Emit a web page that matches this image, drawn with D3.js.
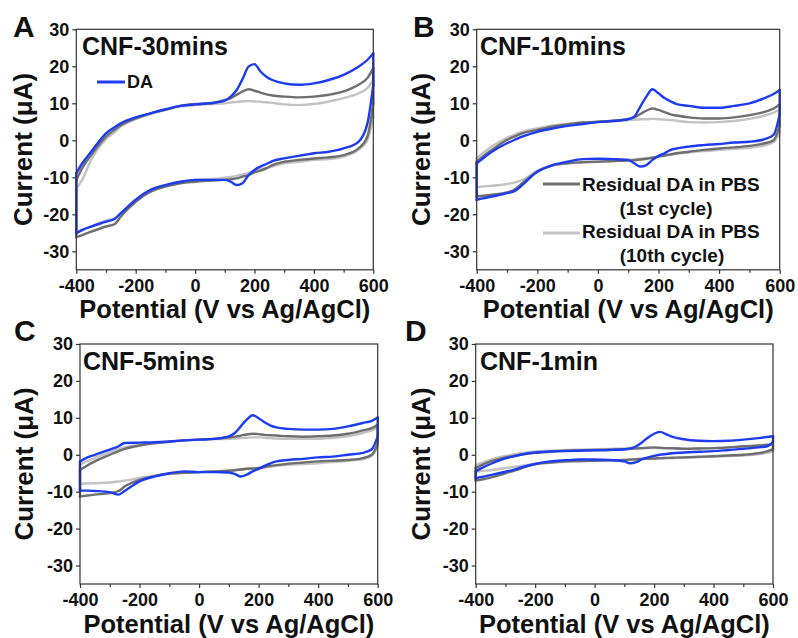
<!DOCTYPE html>
<html>
<head>
<meta charset="utf-8">
<script src="https://cdnjs.cloudflare.com/ajax/libs/d3/7.8.5/d3.min.js"></script>
<style>
body { margin: 0; background: #fff; }
svg text { font-family: "Liberation Sans", Arial, sans-serif; font-weight: bold; fill: #111; }
</style>
</head>
<body>
<svg id="fig" width="798" height="638"></svg>
<script>
// potential grid (mV) shared by every sweep
var potential = [-400, -380, -350, -300, -270, -250, -200, -150, -100, -50, 0, 50, 100, 120, 140,
                 160, 180, 200, 220, 240, 260, 300, 350, 400, 450, 500, 550, 580, 600];
var xTicks = [-400, -200, 0, 200, 400, 600];
var xMinor = [-300, -100, 100, 300, 500];
var yTicks = [-30, -20, -10, 0, 10, 20, 30];
var letters = ["A", "B", "C", "D"];
var titles = ["CNF-30mins", "CNF-10mins", "CNF-5mins", "CNF-1min"];
var seriesNames = ["DA", "Residual DA in PBS (1st cycle)", "Residual DA in PBS (10th cycle)"];

// A: CNF-30mins  (fwd = anodic/upper branch, rev = cathodic/lower branch)
var a_da_fwd  = [-8.9,-6.2,-3.1,1.9,3.6,4.6,6.2,7.3,8.4,9.3,9.7,10.0,10.7,11.8,13.6,16.6,19.9,20.6,18.6,17.2,16.3,15.4,15.0,15.4,16.3,17.7,19.9,21.7,23.5];
var a_da_rev  = [-25.1,-24.2,-23.3,-22.0,-21.2,-19.7,-16.1,-13.4,-12.1,-11.2,-10.7,-10.7,-10.7,-11.2,-12.1,-11.6,-9.4,-8.0,-7.1,-6.4,-5.6,-4.9,-4.2,-3.5,-3.1,-2.2,-0.4,4.5,15.0];
var a_c1_fwd  = [-10.7,-7.5,-4.0,1.0,2.9,4.1,5.9,7.3,8.2,9.3,9.8,10.0,10.9,11.4,12.3,13.2,13.8,13.4,12.9,12.4,12.1,11.8,11.6,11.8,12.3,13.2,15.0,16.8,19.5];
var a_c1_rev  = [-26.2,-25.6,-24.7,-23.3,-22.6,-20.6,-16.6,-13.9,-12.5,-11.6,-11.2,-10.9,-10.7,-10.5,-10.3,-9.8,-9.4,-8.7,-8.2,-7.6,-6.7,-5.8,-5.3,-4.9,-4.6,-4.0,-2.2,1.0,10.0];
var a_c10_fwd = [-13.0,-10.7,-5.3,0.3,2.3,3.7,5.7,7.1,8.2,9.1,9.5,9.8,10.0,10.2,10.4,10.5,10.6,10.5,10.4,10.3,10.1,9.7,9.5,9.8,10.5,11.4,12.7,14.1,16.3];
var a_c10_rev = [-25.1,-24.4,-23.3,-21.7,-21.0,-19.7,-15.9,-13.4,-12.1,-11.2,-10.7,-10.5,-10.1,-9.9,-9.6,-9.2,-8.8,-8.2,-7.8,-7.5,-7.1,-6.2,-5.8,-5.3,-5.1,-4.4,-2.6,0.0,6.0];

// B: CNF-10mins
var b_da_fwd  = [-6.2,-4.9,-3.1,-0.8,0.3,1.0,2.3,3.2,3.9,4.4,4.9,5.2,5.7,6.4,9.1,11.8,13.8,12.7,11.4,10.5,9.8,9.3,8.8,8.8,9.3,10.0,11.4,12.5,13.6];
var b_da_rev  = [-16.1,-15.7,-15.2,-14.3,-13.5,-12.1,-8.5,-6.7,-5.8,-5.1,-5.0,-5.1,-5.3,-6.2,-7.1,-6.7,-5.3,-4.2,-3.5,-2.6,-2.2,-1.7,-1.3,-1.0,-0.6,-0.4,0.3,1.5,7.0];
var b_c1_fwd  = [-5.8,-4.4,-2.6,0.1,1.2,1.9,2.8,3.7,4.3,4.8,5.0,5.3,5.8,6.2,7.1,8.0,8.6,8.2,7.6,7.0,6.7,6.2,5.9,5.9,6.2,6.8,7.7,8.6,9.7];
var b_c1_rev  = [-15.2,-15.0,-14.7,-14.1,-13.0,-11.6,-8.5,-6.8,-6.2,-5.9,-5.8,-5.6,-5.5,-5.4,-5.2,-5.0,-4.7,-4.4,-4.1,-3.8,-3.5,-3.1,-2.6,-2.2,-1.9,-1.5,-0.8,0.0,4.0];
var b_c10_fwd = [-4.9,-3.5,-1.7,0.7,1.7,2.3,3.2,4.0,4.4,4.8,5.0,5.2,5.5,5.6,5.7,5.7,5.8,5.7,5.6,5.5,5.3,4.9,4.8,4.9,5.2,5.8,6.7,7.5,8.2];
var b_c10_rev = [-12.7,-12.5,-12.3,-11.8,-11.3,-10.7,-8.2,-6.8,-6.2,-6.0,-5.8,-5.6,-5.3,-5.2,-5.0,-4.8,-4.6,-4.4,-4.2,-3.9,-3.6,-3.3,-2.9,-2.6,-2.3,-2.0,-1.4,-0.5,2.0];

// C: CNF-5mins
var c_da_fwd  = [-1.8,-0.9,0.0,1.4,2.3,3.2,3.3,3.4,3.6,3.9,4.1,4.3,5.0,5.9,7.7,9.5,10.7,9.9,8.8,7.9,7.4,7.0,6.8,6.8,7.0,7.7,8.6,9.2,10.1];
var c_da_rev  = [-9.7,-9.7,-9.8,-10.1,-10.8,-9.8,-7.2,-5.9,-5.0,-4.5,-4.7,-4.7,-4.8,-5.2,-5.9,-5.4,-4.5,-3.8,-3.0,-2.3,-1.8,-1.4,-1.1,-0.7,-0.5,0.0,0.5,1.5,5.0];
var c_c1_fwd  = [-4.1,-3.1,-1.8,0.0,1.0,1.6,2.5,3.1,3.5,3.9,4.1,4.3,4.7,4.9,5.2,5.5,5.7,5.6,5.4,5.3,5.2,5.0,4.9,5.0,5.2,5.7,6.6,7.2,8.1];
var c_c1_rev  = [-11.3,-11.1,-10.8,-10.4,-9.8,-8.6,-6.8,-5.7,-5.1,-4.9,-4.7,-4.5,-4.3,-4.2,-4.0,-3.8,-3.7,-3.6,-3.3,-3.0,-2.8,-2.4,-2.1,-1.8,-1.6,-1.4,-0.9,0.0,3.0];
var c_c10_fwd = [-2.7,-1.9,-0.9,0.7,1.5,2.0,2.7,3.3,3.6,3.9,4.1,4.2,4.3,4.4,4.5,4.6,4.7,4.7,4.6,4.5,4.4,4.3,4.3,4.3,4.6,5.0,5.9,6.6,7.4];
var c_c10_rev = [-7.9,-7.8,-7.7,-7.5,-7.2,-7.0,-6.3,-5.7,-5.2,-4.9,-4.7,-4.5,-4.3,-4.2,-4.0,-3.8,-3.7,-3.6,-3.4,-3.2,-3.0,-2.7,-2.5,-2.3,-2.0,-1.6,-1.2,-0.3,2.0];

// D: CNF-1min
var d_da_fwd  = [-4.5,-3.6,-2.5,-1.0,-0.4,0.0,0.6,0.9,1.0,1.1,1.2,1.3,1.5,1.7,2.3,3.4,4.7,5.7,6.2,5.6,4.9,4.2,3.8,3.7,3.8,4.1,4.5,4.8,5.0];
var d_da_rev  = [-6.4,-6.0,-5.5,-4.6,-4.0,-3.5,-2.5,-1.8,-1.5,-1.3,-1.3,-1.4,-1.8,-2.3,-2.0,-1.2,-0.7,-0.3,0.0,0.2,0.4,0.6,0.8,1.0,1.3,1.6,2.0,2.3,3.5];
var d_c1_fwd  = [-3.6,-2.8,-1.8,-0.7,-0.3,0.0,0.5,0.8,1.1,1.2,1.3,1.4,1.5,1.6,1.7,1.8,1.9,2.0,1.9,1.8,1.8,1.6,1.7,1.8,2.0,2.3,2.5,2.7,2.9];
var d_c1_rev  = [-7.0,-6.7,-6.2,-5.0,-4.3,-3.8,-2.5,-2.1,-1.8,-1.7,-1.6,-1.5,-1.4,-1.3,-1.2,-1.1,-1.05,-1.0,-0.9,-0.85,-0.8,-0.7,-0.55,-0.4,-0.2,0.0,0.4,0.9,1.5];
var d_c10_fwd = [-2.8,-2.2,-1.3,-0.3,0.1,0.4,0.9,1.1,1.3,1.4,1.5,1.6,1.7,1.7,1.8,1.8,1.8,1.8,1.8,1.75,1.7,1.7,1.75,1.8,2.0,2.2,2.4,2.55,2.7];
var d_c10_rev = [-4.6,-4.4,-4.2,-3.6,-3.3,-3.0,-2.5,-2.2,-1.9,-1.75,-1.6,-1.5,-1.4,-1.35,-1.3,-1.2,-1.15,-1.1,-1.0,-0.95,-0.9,-0.8,-0.65,-0.5,-0.35,-0.2,0.1,0.5,1.0];

var colors = { da: "#1d3cf2", c1: "#6e6e6e", c10: "#c2c2c2" };

// panel frames: [left, right, top, bottom] plus text anchors
var panels = [
    { box: [76.3, 373.3, 29.3, 269.8], letter: [13, 37], title: [82, 55], ytitle: [32, 149.5], xtitle: 318,
      curves: { c10: [a_c10_fwd, a_c10_rev], c1: [a_c1_fwd, a_c1_rev], da: [a_da_fwd, a_da_rev] } },
    { box: [476.7, 779.7, 29.3, 269.8], letter: [413, 37], title: [480, 55], ytitle: [430, 149.5], xtitle: 318,
      curves: { c10: [b_c10_fwd, b_c10_rev], c1: [b_c1_fwd, b_c1_rev], da: [b_da_fwd, b_da_rev] } },
    { box: [80, 377.7, 344, 584], letter: [14, 341], title: [83, 370], ytitle: [33, 464], xtitle: 633,
      curves: { c10: [c_c10_fwd, c_c10_rev], c1: [c_c1_fwd, c_c1_rev], da: [c_da_fwd, c_da_rev] } },
    { box: [475.7, 773, 344, 584], letter: [405, 341], title: [480, 370], ytitle: [430, 464], xtitle: 633,
      curves: { c10: [d_c10_fwd, d_c10_rev], c1: [d_c1_fwd, d_c1_rev], da: [d_da_fwd, d_da_rev] } }
];

var svg = d3.select("#fig");
var plain = function (d) { return String(d); };   // hyphen minus like the original

panels.forEach(function (p, i) {
    var x = d3.scaleLinear().domain([-400, 600]).range([p.box[0], p.box[1]]);
    var y = d3.scaleLinear().domain([-35, 30]).range([p.box[3], p.box[2]]);
    var g = svg.append("g");

    var line = d3.line()
        .x(function (d) { return x(d[0]); })
        .y(function (d) { return y(d[1]); })
        .curve(d3.curveMonotoneX);
    var straight = d3.line()
        .x(function (d) { return x(d[0]); })
        .y(function (d) { return y(d[1]); });

    ["c10", "c1", "da"].forEach(function (key) {
        var fwd = p.curves[key][0], rev = p.curves[key][1];
        var n = potential.length - 1;
        var up = potential.map(function (v, k) { return [v, fwd[k]]; });
        var down = potential.map(function (v, k) { return [v, rev[k]]; });
        [line(up), line(down),
         straight([[potential[0], rev[0]], [potential[0], fwd[0]]]),
         straight([[potential[n], fwd[n]], [potential[n], rev[n]]])].forEach(function (dstr) {
            g.append("path").attr("d", dstr)
                .attr("fill", "none")
                .attr("stroke", colors[key])
                .attr("stroke-width", 2.4)
                .attr("stroke-linecap", "round")
                .attr("stroke-linejoin", "round");
        });
    });

    // frame
    g.append("rect")
        .attr("x", p.box[0]).attr("y", p.box[2])
        .attr("width", p.box[1] - p.box[0]).attr("height", p.box[3] - p.box[2])
        .attr("fill", "none").attr("stroke", "#333").attr("stroke-width", 1.2);

    g.append("g").attr("class", "major").attr("transform", "translate(0," + p.box[3] + ")")
        .call(d3.axisBottom(x).tickValues(xTicks).tickSize(4).tickPadding(5).tickFormat(plain));
    var minor = g.append("g").attr("transform", "translate(0," + p.box[3] + ")")
        .call(d3.axisBottom(x).tickValues(xMinor).tickSize(3).tickFormat(""));
    minor.selectAll("text").remove();
    g.append("g").attr("class", "major").attr("transform", "translate(" + p.box[0] + ",0)")
        .call(d3.axisLeft(y).tickValues(yTicks).tickSize(4).tickPadding(3).tickFormat(plain));

    g.selectAll(".domain").remove();
    g.selectAll(".tick line").attr("stroke", "#333").attr("stroke-width", 1.2);
    g.selectAll(".major .tick text").attr("font-size", 18).attr("fill", "#111")
        .style("font-family", "'Liberation Sans', Arial, sans-serif").style("font-weight", "bold");

    svg.append("text").attr("x", p.letter[0]).attr("y", p.letter[1])
        .attr("font-size", 30).text(letters[i]);
    svg.append("text").attr("x", p.title[0]).attr("y", p.title[1])
        .attr("font-size", 25).text(titles[i]);
    svg.append("text")
        .attr("transform", "translate(" + p.ytitle[0] + "," + p.ytitle[1] + ") rotate(-90)")
        .attr("text-anchor", "middle").attr("font-size", 26).text("Current (\u03bcA)");
    svg.append("text").attr("x", (p.box[0] + p.box[1]) / 2).attr("y", p.xtitle)
        .attr("text-anchor", "middle").attr("font-size", 25.5).text("Potential (V vs Ag/AgCl)");
});

// legend in panel A
svg.append("line").attr("x1", 97).attr("x2", 125).attr("y1", 82).attr("y2", 82)
    .attr("stroke", colors.da).attr("stroke-width", 3);
svg.append("text").attr("x", 127).attr("y", 88).attr("font-size", 18).text(seriesNames[0]);

// legend in panel B
var legB = [
    { key: "c1", ly: 184, base: 190.7, sub: "(1st cycle)", subX: 666, subY: 215 },
    { key: "c10", ly: 233, base: 238, sub: "(10th cycle)", subX: 672, subY: 262 }
];
legB.forEach(function (l) {
    svg.append("line").attr("x1", 543).attr("x2", 580).attr("y1", l.ly).attr("y2", l.ly)
        .attr("stroke", colors[l.key]).attr("stroke-width", 3);
    svg.append("text").attr("x", 582).attr("y", l.base).attr("font-size", 19).text("Residual DA in PBS");
    svg.append("text").attr("x", l.subX).attr("y", l.subY).attr("text-anchor", "middle")
        .attr("font-size", 19).text(l.sub);
});
</script>
</body>
</html>
